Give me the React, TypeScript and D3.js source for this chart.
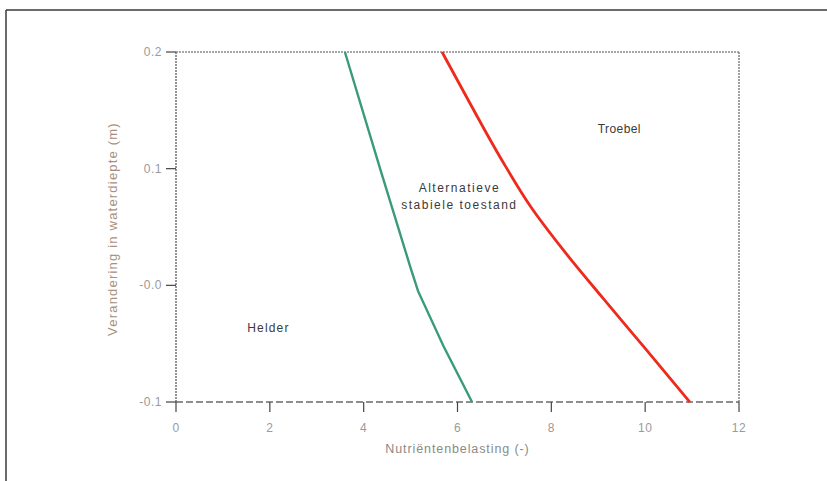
import React from "react";
import * as d3 from "d3";

const xTicks = [0, 2, 4, 6, 8, 10, 12];
const yTicks = [0.2, 0.1, 0.0, -0.1];
const yTickLabels = ["0.2", "0.1", "-0.0", "-0.1"];

// Green boundary (helder -> alternatieve)
const greenX = [3.6, 4.35, 5.0, 5.16, 5.7, 6.31];
const greenY = [0.2, 0.1, 0.015, -0.005, -0.052, -0.1];

// Red boundary (alternatieve -> troebel)
const redX = [5.67, 6.28, 6.95, 7.55, 8.3, 9.1, 10.0, 10.95];
const redY = [0.2, 0.155, 0.107, 0.068, 0.028, -0.011, -0.054, -0.1];

const regionLabels = [
  { lines: ["Troebel"], x: 9.45, y: 0.131, ls: 0.4 },
  { lines: ["Alternatieve", "stabiele toestand"], x: 6.04, y: 0.08, ls: 1.5 },
  { lines: ["Helder"], x: 1.97, y: -0.04, ls: 1.2 },
];

export default function App() {
  const W = 827;
  const H = 481;
  const left = 176;
  const right = 739;
  const top = 52;
  const bottom = 402;

  const x = d3.scaleLinear().domain([0, 12]).range([left, right]);
  const y = d3.scaleLinear().domain([-0.1, 0.2]).range([bottom, top]);

  const line = d3
    .line<[number, number]>()
    .x((d) => x(d[0]))
    .y((d) => y(d[1]));

  const green = line.curve(d3.curveLinear)(greenX.map((v, i) => [v, greenY[i]] as [number, number])) || "";
  const red = line.curve(d3.curveMonotoneY)(redX.map((v, i) => [v, redY[i]] as [number, number])) || "";

  const font = "'Liberation Sans', Arial, sans-serif";

  return (
    <svg
      width={W}
      height={H}
      style={{ position: "absolute", left: 0, top: 0, background: "#fff" }}
      fontFamily={font}
    >
      <rect x={0} y={0} width={W} height={H} fill="#fff" />
      {/* outer frame */}
      <line x1={6} y1={10} x2={W} y2={10} stroke="#3a3a3a" strokeWidth={1.5} />
      <line x1={6} y1={10} x2={6} y2={H} stroke="#3a3a3a" strokeWidth={1.5} />

      {/* plot box */}
      <line x1={left} y1={top} x2={right} y2={top} stroke="#8a8a8a" strokeWidth={1.6} strokeDasharray="2,1" />
      <line x1={right} y1={top} x2={right} y2={bottom} stroke="#8a8a8a" strokeWidth={1.6} strokeDasharray="2,1" />
      <line x1={left} y1={top} x2={left} y2={bottom} stroke="#7a7a7a" strokeWidth={1.6} strokeDasharray="2,1" />
      <line x1={left} y1={bottom} x2={right} y2={bottom} stroke="#6a6a6a" strokeWidth={1.6} strokeDasharray="7,3" />

      {/* x ticks */}
      {xTicks.map((t) => (
        <g key={"x" + t}>
          <line x1={x(t)} y1={bottom} x2={x(t)} y2={bottom + 10} stroke="#444" strokeWidth={1.2} />
          <text x={x(t)} y={bottom + 30} textAnchor="middle" fontSize={12} fill="#9a9a9a" letterSpacing={0.5}>
            {t}
          </text>
        </g>
      ))}
      {/* y ticks */}
      {yTicks.map((t, i) => (
        <g key={"y" + i}>
          <line x1={left - 10} y1={y(t)} x2={left} y2={y(t)} stroke="#444" strokeWidth={1.2} />
          <text x={left - 14} y={y(t) + 4} textAnchor="end" fontSize={12} fill="#9a9a9a" letterSpacing={0.5}>
            {yTickLabels[i]}
          </text>
        </g>
      ))}

      {/* axis titles */}
      <text x={(left + right) / 2 + 0} y={453} textAnchor="middle" fontSize={12.5} fill="#8a8a8a" letterSpacing={0.9}>
        Nutriëntenbelasting (-)
      </text>
      <text
        transform={`translate(117, ${(top + bottom) / 2 + 2}) rotate(-90)`}
        textAnchor="middle"
        fontSize={13}
        fill="#a8907c"
        letterSpacing={1.2}
      >
        Verandering in waterdiepte (m)
      </text>

      {/* boundary lines */}
      <path d={green} fill="none" stroke="#3a9a7c" strokeWidth={2.4} />
      <path d={red} fill="none" stroke="#ee2a1c" strokeWidth={2.8} />

      {/* region labels */}
      {regionLabels.map((r, i) => (
        <text
          key={i}
          x={x(r.x)}
          y={y(r.y)}
          textAnchor="middle"
          fontSize={12}
          fill="#3a3a3a"
          letterSpacing={r.ls}
        >
          {r.lines.map((l, j) => (
            <tspan key={j} x={x(r.x)} dy={j === 0 ? 0 : 17}>
              {l}
            </tspan>
          ))}
        </text>
      ))}
    </svg>
  );
}
